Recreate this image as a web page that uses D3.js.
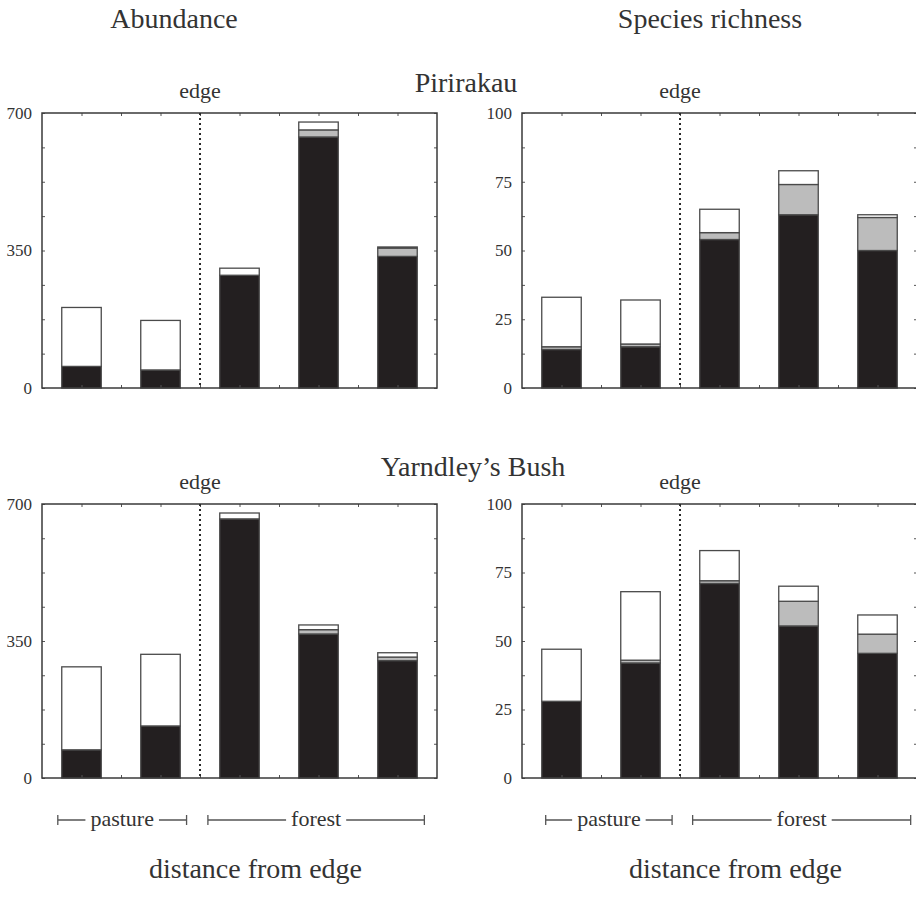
<!DOCTYPE html>
<html lang="en">
<head>
	<meta charset="UTF-8">
	<title>Edge effects</title>
	<script src="https://cdn.jsdelivr.net/npm/d3@7"></script>
	<style>
		html,body{margin:0;padding:0;background:#fff;}
		svg{display:block;}
		text{font-family:"Liberation Serif","Times New Roman",serif;fill:#333;}
		.frame{fill:none;stroke:#3a3a3a;stroke-width:1.5;}
		.tick line{stroke:#555;}
		.seg{stroke:#4a4a4a;stroke-width:1.3;}
	</style>
</head>
<body>
	<svg id="svg" width="916" height="902"></svg>
	<script>
		// distance classes: 2 pasture, 3 forest
		var positions = [1, 2, 3, 4, 5];
		var layers = ["black", "grey", "white"];

		// Pirirakau
		var abundPiriBlack = [55, 46, 287, 639, 335],
			abundPiriGrey = [0, 0, 0, 18, 21],
			abundPiriWhite = [150, 126, 18, 20, 3];
		var richPiriBlack = [14, 15, 54, 63, 50],
			richPiriGrey = [1, 1, 2.5, 11, 12],
			richPiriWhite = [18, 16, 8.5, 5, 1];

		// Yarndley's Bush
		var abundYarnBlack = [72, 133, 662, 368, 300],
			abundYarnGrey = [0, 0, 0, 11, 9],
			abundYarnWhite = [212, 183, 15, 12, 11];
		var richYarnBlack = [28, 42, 71, 55.5, 45.5],
			richYarnGrey = [0, 1, 1, 9, 7],
			richYarnWhite = [19, 25, 11, 5.5, 7];

		var abundTicks = [0, 350, 700],
			richTicks = [0, 25, 50, 75, 100];

		var fills = {black: "#231f20", grey: "#bcbcbc", white: "#ffffff"};

		var svg = d3.select("svg");

		function panel(cfg){
			var x = d3.scaleLinear().domain([0.5, 5.5]).range(cfg.xr),
				y = d3.scaleLinear().domain([0, cfg.max]).range(cfg.yr);
			var g = svg.append("g");

			var rows = positions.map(function(p, i){
				return {pos: p, black: cfg.black[i], grey: cfg.grey[i], white: cfg.white[i]};
			});
			var stack = d3.stack().keys(layers)(rows);

			stack.forEach(function(layer){
				g.selectAll(null)
					.data(layer.filter(function(d){ return d[1] > d[0]; }))
					.enter().append("rect")
					.attr("class", "seg")
					.attr("x", function(d){ return x(d.data.pos - 0.25); })
					.attr("width", x(0.75) - x(0.25))
					.attr("y", function(d){ return y(d[1]); })
					.attr("height", function(d){ return y(d[0]) - y(d[1]); })
					.attr("fill", fills[layer.key]);
			});

			// axes, ticks inward
			var minor = d3.range(0, cfg.max + 0.001, cfg.max / 8);
			var left = d3.axisLeft(y).tickValues(minor).tickSizeInner(-3).tickSizeOuter(0).tickPadding(10)
				.tickFormat(function(d){ return cfg.ticks.indexOf(d) >= 0 ? d : ""; });
			g.append("g").attr("transform", "translate(" + cfg.xr[0] + ",0)").call(left)
				.attr("font-family", null).attr("font-size", null)
				.call(function(a){
					a.select(".domain").remove();
					a.selectAll("text").style("font-size", "17px").attr("fill", "#333");
				});
			g.append("g").attr("transform", "translate(" + cfg.xr[1] + ",0)")
				.call(d3.axisRight(y).tickValues(minor).tickSizeInner(-3).tickSizeOuter(0).tickFormat(""))
				.call(function(a){ a.select(".domain").remove(); });
			var xt = d3.range(1, 5.01, 0.5);
			g.append("g").attr("transform", "translate(0," + cfg.yr[1] + ")")
				.call(d3.axisTop(x).tickValues(xt).tickSizeInner(-3).tickSizeOuter(0).tickFormat(""))
				.call(function(a){ a.select(".domain").remove(); });
			g.append("g").attr("transform", "translate(0," + cfg.yr[0] + ")")
				.call(d3.axisBottom(x).tickValues(xt).tickSizeInner(-3).tickSizeOuter(0).tickFormat(""))
				.call(function(a){ a.select(".domain").remove(); });

			g.append("rect").attr("class", "frame")
				.attr("x", cfg.xr[0]).attr("y", cfg.yr[1])
				.attr("width", cfg.xr[1] - cfg.xr[0]).attr("height", cfg.yr[0] - cfg.yr[1]);

			// edge line
			g.append("line")
				.attr("x1", x(2.5)).attr("x2", x(2.5))
				.attr("y1", cfg.yr[1]).attr("y2", cfg.yr[0])
				.attr("stroke", "#2a2a2a").attr("stroke-width", 2)
				.attr("stroke-dasharray", "2,3");
			g.append("text").attr("x", x(2.5)).attr("y", cfg.yr[1] - 15)
				.attr("text-anchor", "middle").style("font-size", "22px").text("edge");

			if(cfg.brackets){
				var by = cfg.yr[0] + 42;
				var br = [
					{label: "pasture", a: cfg.brackets[0], b: cfg.brackets[1]},
					{label: "forest", a: cfg.brackets[2], b: cfg.brackets[3]}
				];
				br.forEach(function(b){
					var mid = (x(b.a) + x(b.b)) / 2;
					var t = g.append("text").attr("x", mid).attr("y", by + 6)
						.attr("text-anchor", "middle").style("font-size", "22px").text(b.label);
					var w = t.node().getComputedTextLength() / 2 + 5;
					g.append("path")
						.attr("d", "M" + x(b.a) + "," + (by - 5) + "V" + (by + 5) + "M" + x(b.a) + "," + by + "H" + (mid - w) +
							"M" + (mid + w) + "," + by + "H" + x(b.b) + "M" + x(b.b) + "," + (by - 5) + "V" + (by + 5))
						.attr("stroke", "#555").attr("stroke-width", 1.3).attr("fill", "none");
				});
				g.append("text").attr("x", (cfg.xr[0] + cfg.xr[1]) / 2 + 16).attr("y", cfg.yr[0] + 100)
					.attr("text-anchor", "middle").style("font-size", "28px").text("distance from edge");
			}
		}

		var leftX = [42, 437], rightX = [522, 917];
		var topY = [388, 113], botY = [778, 504];

		panel({xr: leftX, yr: topY, max: 700, ticks: abundTicks, black: abundPiriBlack, grey: abundPiriGrey, white: abundPiriWhite});
		panel({xr: rightX, yr: topY, max: 100, ticks: richTicks, black: richPiriBlack, grey: richPiriGrey, white: richPiriWhite});
		panel({xr: leftX, yr: botY, max: 700, ticks: abundTicks, black: abundYarnBlack, grey: abundYarnGrey, white: abundYarnWhite,
			brackets: [0.7, 2.33, 2.6, 5.34]});
		panel({xr: rightX, yr: botY, max: 100, ticks: richTicks, black: richYarnBlack, grey: richYarnGrey, white: richYarnWhite,
			brackets: [0.8, 2.4, 2.66, 5.42]});

		// titles
		svg.append("text").attr("x", 174).attr("y", 28).attr("text-anchor", "middle").style("font-size", "28px").text("Abundance");
		svg.append("text").attr("x", 710).attr("y", 28).attr("text-anchor", "middle").style("font-size", "28px").text("Species richness");
		svg.append("text").attr("x", 466).attr("y", 92).attr("text-anchor", "middle").style("font-size", "28px").text("Pirirakau");
		svg.append("text").attr("x", 473).attr("y", 476).attr("text-anchor", "middle").style("font-size", "28px").text("Yarndley\u2019s Bush");
	</script>
</body>
</html>
